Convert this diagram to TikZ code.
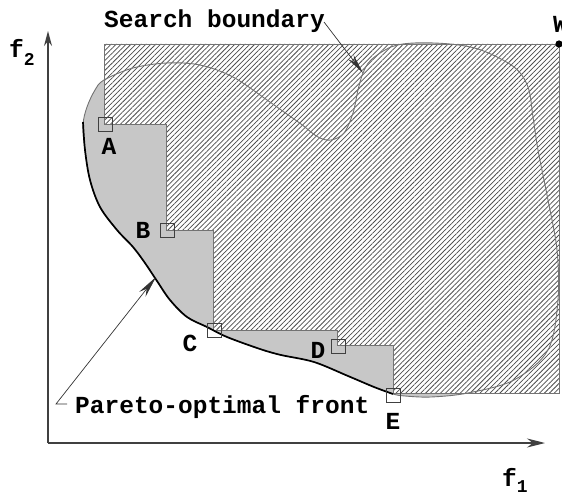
\documentclass[tikz,border=0pt]{standalone}
\usepackage{fontspec}
\setmonofont{Liberation Mono}
\usetikzlibrary{patterns.meta,arrows.meta}
\begin{document}
\begin{tikzpicture}[x=1pt,y=-1pt,
  lbl/.style={font=\fontsize{24.5}{28}\selectfont\ttfamily\bfseries, inner sep=0pt},
  ptbox/.style={draw=black!75, line width=0.8pt, minimum size=14pt, inner sep=0pt},
  hatch/.style={preaction={fill=white}, pattern={Lines[angle=45,distance=3.5pt,line width=0.75pt]}, pattern color=black!70},
  bound/.style={draw=black!55, line width=0.9pt},
  front/.style={draw=black, line width=1.7pt},
  axisline/.style={draw=black!75, line width=1.2pt},
  annot/.style={draw=black!80, line width=0.7pt}
]
\useasboundingbox (0,0) rectangle (562,497);

% feasible region (grey)
\fill[black!22] plot[smooth cycle, tension=0.55] coordinates {
 (393,394) (374,387) (348,376) (314,362) (281,355) (260,349) (227,337) (207,327) (187,317)
 (170,300) (157,281) (145,263) (133,247) (117,230) (100,207) (90,180) (85,150) (83,125)
 (87,107) (95,90) (104,80) (133,68) (167,63) (200,65) (233,77) (267,100) (284,112) (301,124)
 (318,137) (331,140) (344,133) (353,113) (358,90) (363,73) (371,60) (391,47) (414,43)
 (450,44) (481,50) (514,67) (528,87) (533,117) (538,150) (548,200) (557,250) (558,300)
 (548,350) (514,380) (468,393) (431,397) (405,396)};

% dominated (hatched) region
\path[hatch, draw=black!55, line width=0.7pt]
 (104,44) -- (559,44) -- (559,393) -- (393,393) -- (393,345) -- (337,345) -- (337,330)
 -- (213,330) -- (213,230) -- (166,230) -- (166,124) -- (104,124) -- cycle;

% search boundary
\draw[bound] plot[smooth cycle, tension=0.55] coordinates {
 (393,394) (374,387) (348,376) (314,362) (281,355) (260,349) (227,337) (207,327) (187,317)
 (170,300) (157,281) (145,263) (133,247) (117,230) (100,207) (90,180) (85,150) (83,125)
 (87,107) (95,90) (104,80) (133,68) (167,63) (200,65) (233,77) (267,100) (284,112) (301,124)
 (318,137) (331,140) (344,133) (353,113) (358,90) (363,73) (371,60) (391,47) (414,43)
 (450,44) (481,50) (514,67) (528,87) (533,117) (538,150) (548,200) (557,250) (558,300)
 (548,350) (514,380) (468,393) (431,397) (405,396)};

% Pareto-optimal front
\draw[front] plot[smooth, tension=0.55] coordinates {
 (393,394) (374,387) (348,376) (314,362) (281,355) (260,349) (227,337) (207,327) (187,317)
 (170,300) (157,281) (145,263) (133,247) (117,230) (100,207) (90,180) (85,150) (83,122)};

% points
\node[ptbox] (A) at (105,124) {};
\node[ptbox] (B) at (167,230) {};
\node[ptbox] (C) at (214,330) {};
\node[ptbox] (D) at (338,346) {};
\node[ptbox] (E) at (393,395) {};
\node[lbl] (lA) at (109,146) {A};
\node[lbl] (lB) at (143,230) {B};
\node[lbl] (lC) at (190,343) {C};
\node[lbl] (lD) at (318,350) {D};
\node[lbl] (lE) at (393,421) {E};

% W
\fill (559,44) circle (3.6pt);
\node[lbl, anchor=base west] (W) at (553,33) {W};

% axes
\coordinate (O) at (48,443);
\coordinate (Xe) at (545,443);
\coordinate (Ye) at (48,31);
\draw[axisline, -{Stealth[length=18pt,width=9pt]}] (O) -- (Xe);
\draw[axisline, -{Stealth[length=15pt,width=8pt]}] (O) -- (Ye);
\node[lbl, anchor=base west] (f2) at (9,58) {f\raisebox{-8pt}{\fontsize{18}{18}\selectfont 2}};
\node[lbl, anchor=base west] (f1) at (502,486) {f\raisebox{-6pt}{\fontsize{18}{18}\selectfont 1}};

% annotations
\node[lbl, anchor=base west] (sb) at (104,28) {Search boundary};
\coordinate (sbtail) at (324,22);
\coordinate (sbtip) at (363,73);
\draw[annot, -{Stealth[length=20pt,width=7pt]}] (sbtail) -- (sbtip);

\node[lbl, anchor=base west] (pf) at (75,413) {Pareto-optimal front};
\coordinate (pftick) at (67,404);
\coordinate (pftail) at (56,404);
\coordinate (pftip) at (156,277);
\draw[annot, -{Stealth[length=22pt,width=8pt]}] (pftick) -- (pftail) -- (pftip);
\end{tikzpicture}
\end{document}
